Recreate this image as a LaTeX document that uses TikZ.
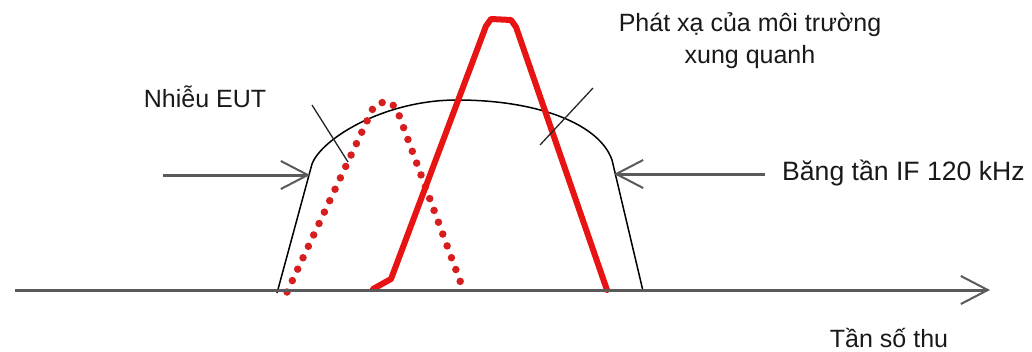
\documentclass[tikz,border=0pt]{standalone}
\usepackage{fontspec}
\setmainfont{Liberation Sans}
\usetikzlibrary{arrows.meta}
\definecolor{axisgray}{RGB}{90,90,90}
\definecolor{sigred}{RGB}{232,20,20}
\definecolor{dotred}{RGB}{215,30,30}
\tikzset{
  lbl/.style={font=\fontsize{25}{32}\selectfont, inner sep=0pt, text=black!90},
  axisline/.style={draw=axisgray, line width=3pt, -{Straight Barb[length=27pt,width=28pt,line width=2pt]}},
  bandline/.style={draw=black, line width=1.5pt},
  pointer/.style={draw=black!85, line width=1.3pt},
  solidsig/.style={draw=sigred, line width=6pt, line join=round, line cap=round},
  dotsig/.style={draw=dotred, line width=7.5pt, line cap=round, dash pattern=on 0pt off 12.6pt},
}
\begin{document}
\begin{tikzpicture}[x=1pt,y=-1pt]
\useasboundingbox (0,0) rectangle (1032,351);
% labels
\node[lbl] (eut) at (205,97) {Nhiễu EUT};
\node[lbl, align=center] (amb) at (750,41) {Phát xạ của môi trường\\xung quanh};
\node[lbl, anchor=west, font=\fontsize{26.6}{32}\selectfont] (ifbw) at (782,173) {Băng tần IF 120 kHz};
\node[lbl] (freq) at (889,338) {Tần số thu};
% coordinates
\coordinate (axL) at (15,290);
\coordinate (axR) at (990,290);
\coordinate (la0) at (163,175);
\coordinate (la1) at (310,175);
\coordinate (ra0) at (765,174);
\coordinate (ra1) at (614,174);
\coordinate (p1a) at (312,105);
\coordinate (p1b) at (348,162);
\coordinate (p2a) at (593,88);
\coordinate (p2b) at (540,145);
% band shape
\draw[bandline] (277,293) -- (312,164) .. controls (322,138) and (385,100) .. (457,100)
  .. controls (540,100) and (600,125) .. (612,160) -- (643,291);
% dotted EUT signal
\draw[dotsig] (287,292) -- (374,106) -- (386,101) -- (396,107) -- (463,289);
% solid ambient signal
\draw[solidsig] (373,289) -- (391,279) -- (486,26) -- (491,19) -- (511,20) -- (516,27) -- (607,290);
% axis
\draw[axisline] (axL) -- (axR);
% IF arrows
\draw[axisline] (la0) -- (la1);
\draw[axisline] (ra0) -- (ra1);
% pointers
\draw[pointer] (p1a) -- (p1b);
\draw[pointer] (p2a) -- (p2b);
\end{tikzpicture}
\end{document}
